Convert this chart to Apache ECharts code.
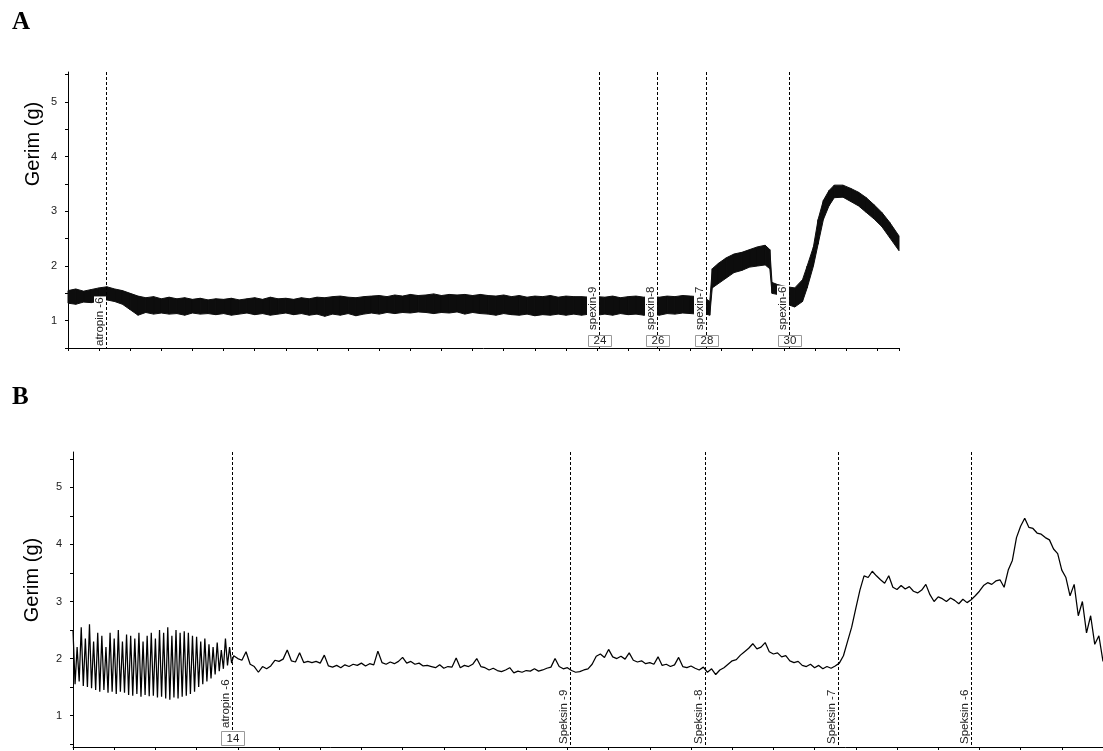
<!DOCTYPE html>
<html>
<head>
<meta charset="utf-8">
<script src="https://cdn.jsdelivr.net/npm/echarts@6/dist/echarts.min.js"></script>
<style>
  html, body { margin: 0; padding: 0; background: #fff; }
  #chart { width: 1103px; height: 751px; }
</style>
</head>
<body>
<div id="chart"></div>
<script>
// ---------- Panel A: tension envelope (lower / upper edge of the recorded band) ----------
const aTime = [0,0.25,0.5,0.75,1,1.25,1.5,1.75,2,2.25,2.5,2.75,3,3.25,3.5,3.75,4,4.25,4.5,4.75,
  5,5.25,5.5,5.75,6,6.25,6.5,6.75,7,7.25,7.5,7.75,8,8.25,8.5,8.75,9,9.25,9.5,9.75,
  10,10.25,10.5,10.75,11,11.25,11.5,11.75,12,12.25,12.5,12.75,13,13.25,13.5,13.75,14,14.25,14.5,14.75,
  15,15.25,15.5,15.75,16,16.25,16.5,16.75,17,17.25,17.5,17.75,18,18.25,18.5,18.75,19,19.25,19.5,19.75,
  20,20.25,20.5,20.62,20.7,20.9,21.15,21.4,21.65,21.9,22.15,22.4,22.55,22.62,22.8,23.1,23.35,23.6,23.75,23.95,
  24.1,24.27,24.45,24.62,24.9,25.15,25.4,25.65,25.9,26.15,26.4,26.7];
const aLow = [1.32,1.30,1.34,1.33,1.36,1.38,1.35,1.30,1.2,1.1,
  1.15,1.12,1.14,1.12,1.13,1.1,1.14,1.12,1.13,1.11,
  1.13,1.1,1.12,1.14,1.11,1.13,1.1,1.12,1.14,1.11,
  1.13,1.1,1.12,1.08,1.12,1.1,1.13,1.09,1.12,1.14,
  1.12,1.15,1.13,1.15,1.14,1.16,1.15,1.13,1.15,1.14,
  1.16,1.12,1.15,1.13,1.12,1.1,1.13,1.11,1.1,1.12,
  1.09,1.11,1.1,1.12,1.1,1.12,1.1,1.12,1.1,1.12,
  1.1,1.13,1.11,1.12,1.1,1.12,1.1,1.13,1.12,1.14,
  1.13,1.12,1.12,
  1.1,1.6,1.68,1.78,1.88,1.92,1.98,2.0,2.02,1.95,1.5,1.48,1.3,1.25,1.35,1.6,2.0,2.4,2.85,3.1,
  3.25,3.26,3.18,3.1,2.98,2.86,2.72,2.52,2.28];
const aHigh = [1.55,1.58,1.54,1.57,1.6,1.62,1.58,1.55,1.5,1.45,
  1.42,1.44,1.4,1.43,1.4,1.42,1.39,1.41,1.38,1.4,
  1.39,1.41,1.38,1.4,1.42,1.39,1.43,1.4,1.41,1.39,
  1.42,1.4,1.43,1.42,1.44,1.45,1.43,1.42,1.44,1.45,
  1.46,1.44,1.47,1.45,1.48,1.46,1.47,1.49,1.46,1.48,
  1.47,1.48,1.46,1.48,1.46,1.45,1.47,1.44,1.46,1.43,
  1.45,1.44,1.46,1.43,1.45,1.44,1.44,1.43,1.44,1.43,
  1.45,1.42,1.44,1.45,1.43,1.44,1.43,1.45,1.44,1.46,
  1.45,1.44,1.4,
  1.35,1.95,2.05,2.15,2.22,2.25,2.3,2.35,2.38,2.3,1.7,1.66,1.62,1.6,1.75,2.0,2.35,2.85,3.2,3.38,
  3.48,3.48,3.42,3.35,3.25,3.12,2.98,2.8,2.55];
const aEventTimes = [1.22, 17.07, 18.91, 20.51, 23.18];
const aEventNames = ['atropin -6', 'spexin-9', 'spexin-8', 'spexin-7', 'spexin-6'];
const aEventTags  = ['', '24', '26', '28', '30'];

// ---------- Panel B: tension trace ----------
// spontaneous phasic contractions before atropine: peak / trough of each cycle
const bCycleHigh = [2.5,2.2,2.55,2.35,2.6,2.3,2.45,2.4,2.2,2.45,2.35,2.5,2.3,2.42,2.4,2.35,2.45,2.3,2.4,2.45,
  2.35,2.5,2.45,2.55,2.4,2.5,2.45,2.48,2.45,2.4,2.38,2.3,2.35,2.25,2.2,2.28,2.15,2.35,2.2];
const bCycleLow = [1.55,1.6,1.52,1.5,1.48,1.45,1.42,1.45,1.4,1.42,1.38,1.42,1.4,1.36,1.35,1.38,1.33,1.36,1.34,1.35,
  1.32,1.33,1.3,1.28,1.32,1.3,1.33,1.35,1.38,1.42,1.5,1.55,1.6,1.65,1.72,1.78,1.82,1.88,1.92];
const bCyclePeriod = 0.1;
// trace after atropine, one reading every 0.1 time units from 3.9
const bTraceStart = 3.9;
const bTraceStep = 0.1;
const bTrace = [2.05,2.0,1.97,2.12,1.9,1.86,1.76,1.86,1.82,1.87,
  1.97,1.95,1.99,2.15,1.96,1.94,2.1,1.93,1.95,1.93,
  1.95,1.92,2.06,1.87,1.85,1.88,1.84,1.89,1.86,1.9,
  1.88,1.92,1.87,1.91,1.89,2.13,1.93,1.9,1.94,1.91,
  1.95,2.02,1.92,1.95,1.9,1.92,1.87,1.88,1.86,1.84,
  1.89,1.83,1.86,1.85,2.01,1.84,1.88,1.86,1.9,2.0,
  1.86,1.84,1.8,1.83,1.79,1.77,1.8,1.84,1.75,1.78,
  1.76,1.79,1.78,1.82,1.78,1.8,1.83,1.85,2.0,1.86,
  1.82,1.84,1.79,1.76,1.77,1.8,1.82,1.9,2.04,2.08,
  2.02,2.16,2.03,2.0,2.04,1.99,2.1,1.97,1.94,1.96,
  1.91,1.93,1.9,2.03,1.88,1.9,1.86,1.89,2.02,1.86,
  1.84,1.87,1.83,1.8,1.85,1.76,1.82,1.72,1.8,1.84,
  1.9,1.96,1.98,2.06,2.12,2.18,2.26,2.17,2.2,2.28,
  2.12,2.08,2.1,2.03,2.05,1.96,1.93,1.95,1.88,1.86,
  1.9,1.84,1.88,1.82,1.86,1.83,1.87,1.92,2.05,2.3,
  2.55,2.88,3.2,3.45,3.42,3.53,3.45,3.38,3.32,3.45,
  3.25,3.21,3.28,3.22,3.26,3.18,3.15,3.2,3.3,3.12,
  3.0,3.08,3.05,3.0,3.06,3.02,2.96,3.04,2.98,3.03,
  3.1,3.18,3.28,3.33,3.3,3.36,3.38,3.25,3.55,3.72,
  4.12,4.32,4.46,4.3,4.28,4.2,4.18,4.12,4.08,3.92,
  3.84,3.55,3.42,3.1,3.3,2.75,3.0,2.45,2.75,2.25,
  2.4,1.95];
const bEventTimes = [3.86, 12.06, 15.34, 18.57, 21.8];
const bEventNames = ['atropin -6', 'Speksin -9', 'Speksin -8', 'Speksin -7', 'Speksin -6'];
const bEventTags  = ['14', '', '', '', ''];

// axis labels
const yLabelValues = [1, 2, 3, 4, 5];
const yTickValues = [0.5, 1, 1.5, 2, 2.5, 3, 3.5, 4, 4.5, 5, 5.5];
const yAxisTitle = 'Gerim (g)';
const panelLetters = ['A', 'B'];

const FONT = '"Liberation Sans", Arial, sans-serif';

// ---------- build series data ----------
const bandData = [];
for (let i = 0; i < aTime.length - 1; i++) {
  bandData.push([aTime[i], aLow[i], aHigh[i], aTime[i + 1], aLow[i + 1], aHigh[i + 1]]);
}
const bData = [];
for (let i = 0; i < bCycleHigh.length; i++) {
  bData.push([i * bCyclePeriod, bCycleHigh[i]]);
  bData.push([i * bCyclePeriod + bCyclePeriod / 2, bCycleLow[i]]);
}
bTrace.forEach((v, i) => bData.push([+(bTraceStart + i * bTraceStep).toFixed(2), v]));

function eventSeries(idx, times, names, tags, opt) {
  return {
    type: 'custom', xAxisIndex: idx, yAxisIndex: idx, z: 5, silent: true, clip: false,
    data: times.map((t, i) => [t, i]),
    encode: { x: 0 },
    renderItem(params, api) {
      const cs = params.coordSys;
      const i = api.value(1);
      const px = Math.round(api.coord([api.value(0), opt.yRef])[0]) + 0.5;
      const bottom = cs.y + cs.height;
      const tag = tags[i];
      const lift = tag ? opt.taggedLift : opt.plainLift;
      const children = [
        { type: 'line', shape: { x1: px, y1: cs.y, x2: px, y2: bottom },
          style: { stroke: '#000', lineWidth: 1, lineDash: [3, 2] } },
        { type: 'text', x: px - 0.5, y: bottom - lift, rotation: Math.PI / 2,
          style: { text: names[i], x: 0, y: 0, align: 'left', verticalAlign: 'bottom',
                   fill: '#222', fontSize: 11.5, fontFamily: FONT,
                   backgroundColor: '#fff', padding: [0, 1, 0, 1] } }
      ];
      if (tag) {
        children.push({ type: 'rect',
          shape: { x: Math.round(px - 11.5) + 0.5, y: Math.round(bottom - opt.tagH - 2) + 0.5, width: 23, height: opt.tagH },
          style: { fill: '#fff', stroke: '#9a9a9a', lineWidth: 1 } });
        children.push({ type: 'text', x: px + 0.5, y: bottom - 2 - opt.tagH / 2 + 0.5,
          style: { text: tag, align: 'center', verticalAlign: 'middle', fill: '#222', fontSize: 11.5, fontFamily: FONT } });
      }
      return { type: 'group', children };
    }
  };
}

const axisLine = { show: true, lineStyle: { color: '#000', width: 1 } };
function yAxisOpt(idx, min, max) {
  return {
    type: 'value', gridIndex: idx, min, max,
    splitLine: { show: false },
    axisLine,
    axisTick: { show: true, inside: false, length: 3, lineStyle: { color: '#000' }, customValues: yTickValues },
    axisLabel: { color: '#222', fontSize: 11, fontFamily: FONT, margin: 11, customValues: yLabelValues }
  };
}
function xAxisOpt(idx, max) {
  return {
    type: 'value', gridIndex: idx, min: 0, max, interval: 1,
    splitLine: { show: false },
    axisLine,
    axisTick: { show: true, length: 3, lineStyle: { color: '#000' } },
    axisLabel: { show: false }
  };
}

const chart = echarts.init(document.getElementById('chart'), null, { renderer: 'canvas' });
chart.setOption({
  animation: false,
  backgroundColor: '#fff',
  grid: [
    { left: 68, top: 72, width: 831, height: 276 },
    { left: 73, top: 452, width: 1030, height: 295 }
  ],
  xAxis: [xAxisOpt(0, 26.7), xAxisOpt(1, 25)],
  yAxis: [yAxisOpt(0, 0.5, 5.55), yAxisOpt(1, 0.45, 5.62)],
  graphic: [
    { type: 'text', left: 12, top: 10, style: { text: panelLetters[0], font: 'bold 25px "Liberation Serif", "Times New Roman", serif', fill: '#000' } },
    { type: 'text', left: 12, top: 385, style: { text: panelLetters[1], font: 'bold 25px "Liberation Serif", "Times New Roman", serif', fill: '#000' } },
    { type: 'text', x: 33, y: 144, rotation: Math.PI / 2,
      style: { text: yAxisTitle, font: '20px ' + FONT, fill: '#000', align: 'center', verticalAlign: 'middle' } },
    { type: 'text', x: 32, y: 580, rotation: Math.PI / 2,
      style: { text: yAxisTitle, font: '20px ' + FONT, fill: '#000', align: 'center', verticalAlign: 'middle' } }
  ],
  series: [
    {
      type: 'custom', xAxisIndex: 0, yAxisIndex: 0, z: 2, silent: true,
      data: bandData,
      encode: { x: [0, 3], y: [1, 2, 4, 5] },
      renderItem(params, api) {
        const p1 = api.coord([api.value(0), api.value(1)]);
        const p2 = api.coord([api.value(0), api.value(2)]);
        const p3 = api.coord([api.value(3), api.value(5)]);
        const p4 = api.coord([api.value(3), api.value(4)]);
        return { type: 'polygon', shape: { points: [p1, p2, p3, p4] },
                 style: { fill: '#0d0d0d', stroke: '#0d0d0d', lineWidth: 1 } };
      }
    },
    {
      type: 'line', xAxisIndex: 1, yAxisIndex: 1, z: 2, silent: true,
      data: bData, showSymbol: false, symbol: 'none',
      lineStyle: { color: '#000', width: 1.25 }
    },
    eventSeries(0, aEventTimes, aEventNames, aEventTags, { yRef: 0.5, taggedLift: 17, plainLift: 1, tagH: 11 }),
    eventSeries(1, bEventTimes, bEventNames, bEventTags, { yRef: 0.45, taggedLift: 18, plainLift: 2, tagH: 14 })
  ]
});
</script>
</body>
</html>
